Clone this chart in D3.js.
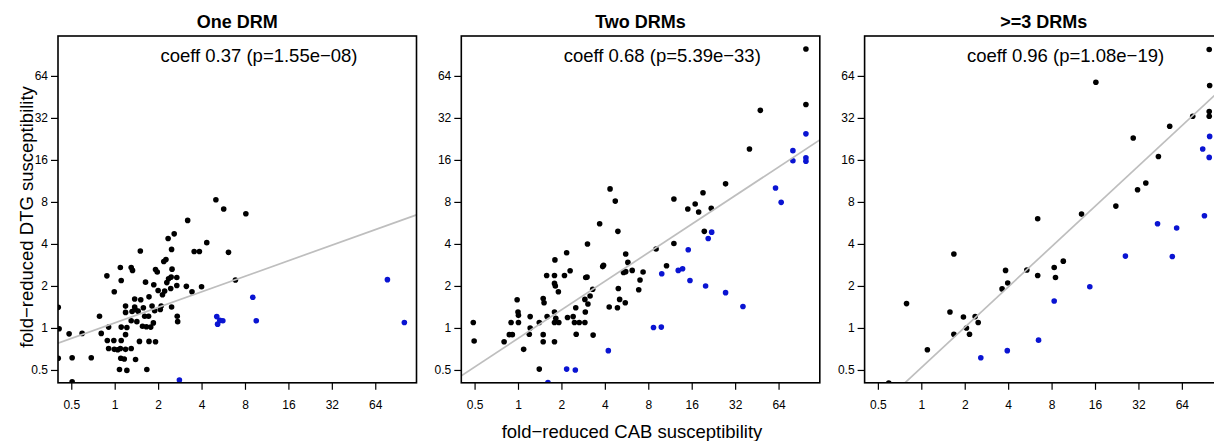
<!DOCTYPE html>
<html>
<head>
<meta charset="utf-8">
<script src="https://cdn.jsdelivr.net/npm/d3@7"></script>
<style>
  body { margin: 0; background: #fff; }
  svg { display: block; font-family: "Liberation Sans", Arial, Helvetica, sans-serif; }
</style>
</head>
<body>
<div id="chart"></div>
<script>
"use strict";

// values are log2 of fold-reduced susceptibility
var panelTitles = ["One DRM", "Two DRMs", ">=3 DRMs"];
var coeffLabels = ["coeff 0.37 (p=1.55e\u221208)", "coeff 0.68 (p=5.39e\u221233)", "coeff 0.96 (p=1.08e\u221219)"];
var fitIntercepts = [0.12, -0.25, -0.945];
var fitSlopes = [0.37, 0.68, 0.96];
var tickLog2 = [-1, 0, 1, 2, 3, 4, 5, 6];

var oneCab = [2.33,2.51,3.02,1.68,1.23,1.37,2.12,0.59,1.31,1.83,1.95,2.62,1.18,1.13,0.13,0.38,0.41,0.94,0.98,1.32,
  -0.18,0.15,0.71,1.30,1.24,1.43,0.90,1.20,1.29,1.43,1.65,2.00,2.78,-0.01,1.00,1.10,1.15,1.78,0.46,0.60,
  0.79,0.25,0.46,0.66,0.86,1.07,1.31,0.25,0.40,0.47,0.69,0.78,0.92,1.05,-0.35,0.38,0.51,0.64,0.73,0.83,
  0.89,0.15,0.28,1.44,1.45,-0.14,-1.05,-0.75,-0.31,0.25,-0.17,-0.02,0.15,0.57,0.79,0.94,-0.14,-0.01,0.07,0.13,
  0.25,0.38,-0.98,-0.54,0.14,0.22,0.48,0.11,0.28,0.74,-1.30,-1.30,-0.98,-1.28,0.54];
var oneDtg = [3.05,2.83,2.72,2.56,2.13,2.24,2.03,1.83,1.87,1.82,1.82,1.80,1.63,1.58,1.44,1.44,1.37,1.39,1.33,1.40,
  1.24,1.13,1.09,1.21,1.17,1.20,1.03,1.08,0.94,1.01,0.99,0.98,1.14,0.86,0.89,0.79,0.88,0.86,0.69,0.67,
  0.74,0.52,0.50,0.48,0.52,0.52,0.50,0.37,0.39,0.44,0.28,0.28,0.41,0.44,0.28,0.17,0.15,0.04,0.03,0.02,
  0.12,0.02,0.01,0.28,0.15,0.02,-0.14,-0.13,-0.13,-0.16,-0.30,-0.30,-0.30,-0.32,-0.32,-0.33,-0.49,-0.51,-0.52,-0.49,
  -0.51,-0.49,-0.71,-0.71,-0.72,-0.74,-0.75,-0.99,-1.01,-0.99,0.49,-0.72,-1.28,-0.02,0.40];
var oneCabBlue = [1.49,2.35,2.37,2.42,2.49,3.18,3.26,6.28,6.67];
var oneDtgBlue = [-1.24,0.27,0.09,0.18,0.17,0.73,0.17,1.15,0.13];

var twoCab = [2.24,1.88,2.30,1.60,1.12,0.85,2.48,2.53,1.95,1.97,1.20,0.66,0.84,1.07,1.56,1.59,2.63,2.43,2.48,2.88,
  2.81,0.84,0.86,0.93,1.72,2.31,2.78,1.66,1.54,1.61,2.34,2.47,2.10,2.29,-0.02,0.58,0.60,1.33,0.00,0.01,
  0.28,0.67,0.84,0.87,0.94,0.84,1.14,1.27,1.55,-0.16,0.01,-1.03,0.49,1.30,1.41,1.54,0.28,0.26,-0.20,-0.13,
  0.58,1.34,1.73,-1.01,-0.32,0.58,0.84,0.13,0.49,2.12,3.18,3.59,3.59,3.42,3.91,4.08,4.16,4.45,4.29,4.26,
  4.78,5.33,5.58,6.63,6.63];
var twoDtg = [3.02,2.48,2.30,2.00,1.79,1.62,1.76,1.56,1.46,1.49,1.36,1.25,1.25,1.25,1.20,1.21,1.37,1.32,1.34,1.33,
  1.14,1.06,1.00,0.86,0.92,0.94,0.91,0.76,0.68,0.57,0.68,0.60,0.50,0.48,0.67,0.70,0.60,0.48,0.38,0.30,
  0.27,0.27,0.38,0.23,0.13,0.13,0.25,0.27,0.38,0.13,0.13,0.13,0.13,0.13,0.13,0.13,0.00,-0.15,-0.16,-0.16,
  -0.16,-0.15,-0.17,-0.31,-0.33,-0.33,-0.33,-0.51,-0.98,3.31,1.88,3.07,2.01,1.48,2.83,2.95,2.76,2.85,2.30,3.22,
  3.43,4.26,5.18,6.64,5.32];
var twoCabBlue = [6.63,6.33,6.33,6.63,6.63,5.93,6.06,4.46,4.38,3.92,3.31,3.69,3.79,3.96,4.32,4.78,5.18,3.12,3.30,2.08,1.12,1.32,0.69];
var twoDtgBlue = [4.62,4.22,3.98,4.05,3.97,3.33,2.99,2.28,2.13,1.86,1.29,1.37,1.41,1.13,1.00,0.84,0.51,0.01,0.02,-0.54,-0.98,-1.00,-1.30];

var threeCab = [4.48,3.69,2.68,0.75,3.27,3.06,1.94,2.43,2.68,3.09,1.99,1.86,-0.34,0.66,0.97,1.24,1.31,1.04,0.75,1.11,
  0.14,-0.75,6.63,4.02,6.64,6.25,6.63,6.63,5.72,4.88,5.46,5.17,4.98];
var threeDtg = [2.90,2.71,2.60,1.76,1.59,1.44,1.37,1.38,1.25,1.20,1.07,0.93,0.58,0.38,0.26,0.27,0.13,0.00,-0.15,-0.15,
  -0.52,-1.31,6.63,5.85,5.77,5.04,5.15,5.04,4.80,4.52,4.08,3.45,3.29];
var threeCabBlue = [6.52,5.44,5.88,4.70,5.78,3.88,3.06,2.70,1.98,1.37,6.64,6.48,6.63];
var threeDtgBlue = [2.67,2.48,2.38,1.71,1.70,0.98,0.64,-0.29,-0.54,-0.71,4.56,4.26,4.06];

var panelCab = [oneCab, twoCab, threeCab];
var panelDtg = [oneDtg, twoDtg, threeDtg];
var panelCabBlue = [oneCabBlue, twoCabBlue, threeCabBlue];
var panelDtgBlue = [oneDtgBlue, twoDtgBlue, threeDtgBlue];

var W = 1214, H = 441;
var plotLefts = [58, 461.3, 864.6],
    plotWidth = 358.5,
    plotTop = 36, plotBottom = 382.8;

// R style 4% padding around log2(0.5)..log2(100)
var lo = -1, hi = Math.log2(100), pad = (hi - lo) * 0.04;
var domain = [lo - pad, hi + pad];

var svg = d3.select("#chart").append("svg")
    .attr("width", W).attr("height", H);

var y = d3.scaleLinear().domain(domain).range([plotBottom, plotTop]);
var fmt = function(d){ return String(Math.pow(2, d)); };

panelTitles.forEach(function(title, p){
  var x = d3.scaleLinear().domain(domain).range([plotLefts[p], plotLefts[p] + plotWidth]);
  var g = svg.append("g").attr("class", "panel");

  svg.append("clipPath").attr("id", "clip" + p)
    .append("rect")
    .attr("x", plotLefts[p]).attr("y", plotTop)
    .attr("width", plotWidth).attr("height", plotBottom - plotTop);

  var inner = g.append("g").attr("clip-path", "url(#clip" + p + ")");

  var black = panelCab[p].map(function(d, i){ return [d, panelDtg[p][i]]; });
  var blue = panelCabBlue[p].map(function(d, i){ return [d, panelDtgBlue[p][i]]; });

  inner.selectAll(".dot").data(black).enter().append("circle")
    .attr("class", "dot")
    .attr("cx", function(d){ return x(d[0]); })
    .attr("cy", function(d){ return y(d[1]); })
    .attr("r", 2.8)
    .style("fill", "#000");

  inner.selectAll(".bdot").data(blue).enter().append("circle")
    .attr("class", "bdot")
    .attr("cx", function(d){ return x(d[0]); })
    .attr("cy", function(d){ return y(d[1]); })
    .attr("r", 2.8)
    .style("fill", "#0a14d2");

  // fitted line
  inner.append("line")
    .attr("x1", x(domain[0])).attr("y1", y(fitIntercepts[p] + fitSlopes[p] * domain[0]))
    .attr("x2", x(domain[1])).attr("y2", y(fitIntercepts[p] + fitSlopes[p] * domain[1]))
    .style("stroke", "#bebebe").style("stroke-width", 1.7);

  inner.append("text")
    .attr("x", x(Math.log2(10))).attr("y", y(Math.log2(90)))
    .attr("dy", "0.35em")
    .style("text-anchor", "middle").style("font-size", "18.5px")
    .text(coeffLabels[p]);

  // axes
  var xAxis = g.append("g")
    .attr("transform", "translate(0," + plotBottom + ")")
    .call(d3.axisBottom(x).tickValues(tickLog2).tickFormat(fmt).tickSize(7).tickPadding(11));
  var yAxis = g.append("g")
    .attr("transform", "translate(" + plotLefts[p] + ",0)")
    .call(d3.axisLeft(y).tickValues(tickLog2).tickFormat(fmt).tickSize(7).tickPadding(3));
  [xAxis, yAxis].forEach(function(a){
    a.select(".domain").remove();
    a.selectAll("line").style("stroke", "#000").style("stroke-width", 1.2);
    a.selectAll("text").style("font-size", "12px").style("fill", "#000").style("font-family", null);
  });

  g.append("rect")
    .attr("x", plotLefts[p]).attr("y", plotTop)
    .attr("width", plotWidth).attr("height", plotBottom - plotTop)
    .style("fill", "none").style("stroke", "#000").style("stroke-width", 1.6);

  g.append("text")
    .attr("x", plotLefts[p] + plotWidth / 2).attr("y", 28)
    .style("text-anchor", "middle").style("font-weight", "bold").style("font-size", "18px")
    .text(title);
});

svg.append("text")
  .attr("x", 632).attr("y", 438)
  .style("text-anchor", "middle").style("font-size", "18.5px")
  .text("fold\u2212reduced CAB susceptibility");

svg.append("text")
  .attr("transform", "translate(33,217) rotate(-90)")
  .style("text-anchor", "middle").style("font-size", "18.5px")
  .text("fold\u2212reduced DTG susceptibility");
</script>
</body>
</html>
